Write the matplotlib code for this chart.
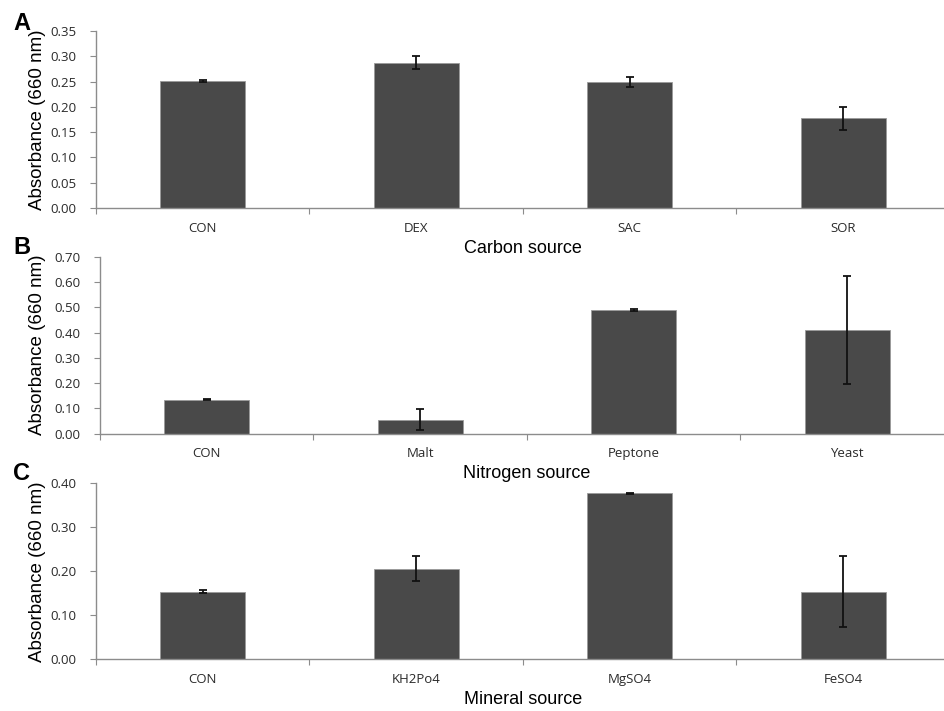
import matplotlib
matplotlib.use("Agg")
import matplotlib.pyplot as plt
import numpy as np

# ---- data ----
carbon_labels = ["CON", "DEX", "SAC", "SOR"]
carbon_values = [0.251, 0.287, 0.249, 0.177]
carbon_errors = [0.002, 0.013, 0.010, 0.023]

nitrogen_labels = ["CON", "Malt", "Peptone", "Yeast"]
nitrogen_values = [0.134, 0.056, 0.489, 0.410]
nitrogen_errors = [0.002, 0.040, 0.003, 0.214]

mineral_labels = ["CON", "KH2Po4", "MgSO4", "FeSO4"]
mineral_values = [0.154, 0.206, 0.377, 0.154]
mineral_errors = [0.003, 0.029, 0.001, 0.080]

panels = [
    ("A", carbon_labels, carbon_values, carbon_errors, "Carbon source", 0.35, 0.05),
    ("B", nitrogen_labels, nitrogen_values, nitrogen_errors, "Nitrogen source", 0.70, 0.10),
    ("C", mineral_labels, mineral_values, mineral_errors, "Mineral source", 0.40, 0.10),
]

W, H = 945, 711
fig = plt.figure(figsize=(W / 100, H / 100), dpi=100)

# axes boxes in pixels: (left, top, right, bottom)
boxes = [(96, 31, 950, 208), (100, 256.7, 954, 433.7), (96, 483.3, 950, 659.3)]
letter_y = [23, 247, 473]

bar_color = "#494949"
spine_color = "#8c8c8c"
tick_color = "#2a2a2a"
tick_font = "Open Sans"
label_font = "Liberation Sans"

for (letter, cats, vals, errs, xl, ymax, step), (l, t, r, b), ly in zip(panels, boxes, letter_y):
    ax = fig.add_axes([l / W, 1 - b / H, (r - l) / W, (b - t) / H])
    x = np.arange(len(cats))
    ax.bar(x, vals, width=0.4, color=bar_color, edgecolor="#9a9a9a", linewidth=0.6, zorder=2)
    ax.errorbar(x, vals, yerr=errs, fmt="none", ecolor="#111111", elinewidth=1.3,
                capsize=2.7, capthick=1.3, zorder=3)
    ax.set_xlim(-0.5, len(cats) - 0.5)
    ax.set_ylim(0, ymax)
    yt = np.arange(0, ymax + step / 2, step)
    ax.set_yticks(yt)
    ax.set_yticklabels([f"{v:.2f}" for v in yt], fontsize=9.5, color=tick_color, family=tick_font)
    ax.set_xticks(np.arange(-0.5, len(cats), 1.0))
    ax.set_xticklabels([])
    ax.tick_params(axis="y", direction="out", length=4, width=0.8, color=spine_color, pad=10)
    ax.tick_params(axis="x", direction="out", length=4, width=0.8, color=spine_color)
    for s in ["top", "right"]:
        ax.spines[s].set_visible(False)
    for s in ["left", "bottom"]:
        ax.spines[s].set_color(spine_color)
        ax.spines[s].set_linewidth(1.0)
    for xi, c in zip(x, cats):
        ax.annotate(c, xy=(xi, 0), xycoords=("data", "axes fraction"),
                    xytext=(0, -20 * 0.72), textcoords="offset points",
                    ha="center", va="center", fontsize=9.5, color=tick_color, family=tick_font)
    ax.annotate(xl, xy=(0.5, 0), xycoords="axes fraction",
                xytext=(0, -40 * 0.72), textcoords="offset points",
                ha="center", va="center", fontsize=13, color="black", family=label_font)
    fig.text(38 / W, 1 - ((t + b) / 2) / H, "Absorbance (660 nm)", rotation=90,
             ha="center", va="center", fontsize=13.5, family=label_font)
    fig.text(22 / W, 1 - ly / H, letter, ha="center", va="center", fontsize=17,
             fontweight="bold", family=label_font)

fig.savefig("out.png", dpi=100)
